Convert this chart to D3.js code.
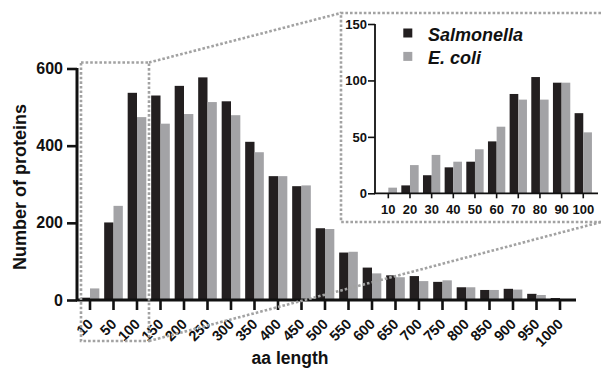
<!DOCTYPE html>
<html><head><meta charset="utf-8">
<script src="https://cdn.jsdelivr.net/npm/d3@7"></script>
<style>
html,body{margin:0;padding:0;background:#fff;}
svg{display:block;font-family:"Liberation Sans",Arial,Helvetica,sans-serif;font-weight:bold;}
</style></head>
<body>
<svg id="c" width="602" height="372"></svg>
<script>
// Main chart data
const mainCategories = ["10","50","100","150","200","250","300","350","400","450","500","550","600","650","700","750","800","850","900","950","1000"];
const salmonellaMain = [6,201,537,530,555,577,515,410,321,295,186,123,84,64,62,47,33,26,29,16,5];
const ecoliMain      = [30,244,474,457,482,513,479,383,321,297,184,125,69,59,49,51,33,26,27,13,0];
const mainYTicks = [0,200,400,600];

// Inset data
const insetCategories = ["10","20","30","40","50","60","70","80","90","100"];
const salmonellaInset = [0,7,16,23,28,46,88,103,98,71];
const ecoliInset      = [5,25,34,28,39,59,83,83,98,54];
const insetYTicks = [0,50,100,150];

const seriesNames = ["Salmonella","E. coli"];
const colors = ["#231f20","#a3a3a6"];

const svg = d3.select("#c");
const dotted = {stroke:"#a2a2a2", width:2.6, dash:"2.6,2"};

// ---------- main chart ----------
const x = d3.scaleBand().domain(mainCategories).range([78.25, 571.75]).paddingInner(0).paddingOuter(0);
const x1 = d3.scaleBand().domain(seriesNames).range([0, x.bandwidth()]).paddingInner(0).paddingOuter(0.26);
const y = d3.scaleLinear().domain([0,600]).range([300, 68.5]);

const mainData = mainCategories.map((c,i)=>({cat:c, vals:[salmonellaMain[i], ecoliMain[i]]}));
const g = svg.append("g");
g.selectAll("g.grp").data(mainData).enter().append("g")
  .attr("transform", d=>`translate(${x(d.cat)},0)`)
  .selectAll("rect").data(d=>d.vals.map((v,j)=>({s:seriesNames[j], v, j})))
  .enter().append("rect")
  .attr("x", d=>x1(d.s)).attr("width", x1.bandwidth())
  .attr("y", d=>y(d.v)).attr("height", d=>y(0)-y(d.v))
  .attr("fill", d=>colors[d.j]);

// y axis
const yAxis = g.append("g").attr("transform","translate(77,0)")
  .call(d3.axisLeft(y).tickValues(mainYTicks).tickSize(10).tickPadding(4).tickFormat(d3.format("d")));
yAxis.select(".domain").attr("stroke","#111").attr("stroke-width",3).attr("d","M0,300.5V68");
yAxis.selectAll(".tick line").attr("stroke","#111").attr("stroke-width",2.6);
yAxis.selectAll(".tick text").attr("font-size",16).attr("font-weight","bold").attr("fill","#111")
  .attr("font-family","Liberation Sans, Arial, sans-serif");

// x axis
const xAxis = g.append("g").attr("transform","translate(0,300)")
  .call(d3.axisBottom(x).tickSize(10).tickPadding(0));
xAxis.select(".domain").attr("stroke","#111").attr("stroke-width",3).attr("d","M76,0H576");
xAxis.selectAll(".tick line").attr("stroke","#111").attr("stroke-width",2.6);
xAxis.selectAll(".tick text")
  .attr("font-size",14.5).attr("font-weight","bold").attr("fill","#111")
  .attr("font-family","Liberation Sans, Arial, sans-serif")
  .attr("text-anchor","end").attr("y",null).attr("dy",null)
  .attr("transform","translate(4,25) rotate(-45)");

// titles
svg.append("text").attr("x",290).attr("y",364).attr("text-anchor","middle")
  .attr("font-size",17.5).attr("fill","#111").text("aa length");
svg.append("text").attr("transform","translate(26,187) rotate(-90)").attr("text-anchor","middle")
  .attr("font-size",18).attr("fill","#111").text("Number of proteins");

// ---------- inset ----------
const xi = d3.scaleBand().domain(insetCategories).range([377.5, 594.1]).paddingInner(0).paddingOuter(0);
const xi1 = d3.scaleBand().domain(seriesNames).range([0, xi.bandwidth()]).paddingInner(0).paddingOuter(0.25);
const yi = d3.scaleLinear().domain([0,150]).range([193.3, 24]);

const insetData = insetCategories.map((c,i)=>({cat:c, vals:[salmonellaInset[i], ecoliInset[i]]}));
const gi = svg.append("g");
gi.selectAll("g.grp").data(insetData).enter().append("g")
  .attr("transform", d=>`translate(${xi(d.cat)},0)`)
  .selectAll("rect").data(d=>d.vals.map((v,j)=>({s:seriesNames[j], v, j})))
  .enter().append("rect")
  .attr("x", d=>xi1(d.s)).attr("width", xi1.bandwidth())
  .attr("y", d=>yi(d.v)).attr("height", d=>yi(0)-yi(d.v))
  .attr("fill", d=>colors[d.j]);

const yiAxis = gi.append("g").attr("transform","translate(375,0)")
  .call(d3.axisLeft(yi).tickValues(insetYTicks).tickSize(7).tickPadding(1).tickFormat(d3.format("d")));
yiAxis.select(".domain").attr("stroke","#111").attr("stroke-width",1.8).attr("d","M0,193.8V24");
yiAxis.selectAll(".tick line").attr("stroke","#111").attr("stroke-width",1.6);
yiAxis.selectAll(".tick text").attr("font-size",13).attr("font-weight","bold").attr("fill","#111")
  .attr("font-family","Liberation Sans, Arial, sans-serif");

const xiAxis = gi.append("g").attr("transform","translate(0,193.3)")
  .call(d3.axisBottom(xi).tickSize(5).tickPadding(6));
xiAxis.select(".domain").attr("stroke","#111").attr("stroke-width",1.8).attr("d","M374,0H598");
xiAxis.selectAll(".tick line").attr("stroke","#111").attr("stroke-width",1.6);
xiAxis.selectAll(".tick text").attr("font-size",13).attr("font-weight","bold").attr("fill","#111")
  .attr("font-family","Liberation Sans, Arial, sans-serif");

// legend
const legend = svg.append("g");
seriesNames.forEach((s,i)=>{
  const ly = 28.5 + i*23.4;
  legend.append("rect").attr("x",403.3).attr("y",ly).attr("width",9).attr("height",9).attr("fill",colors[i]);
  legend.append("text").attr("x",428).attr("y",ly+12.3).attr("font-size",18)
    .attr("font-style","italic").attr("fill","#111").text(s);
});

// ---------- dotted zoom guides ----------
const guides = svg.append("g").attr("fill","none").attr("stroke",dotted.stroke)
  .attr("stroke-width",dotted.width).attr("stroke-dasharray",dotted.dash);
guides.append("rect").attr("x",81).attr("y",62.5).attr("width",68).attr("height",278.5);
guides.append("path").attr("d","M601,13H341V222H601");
guides.append("path").attr("d","M149,62.5L341,13");
guides.append("path").attr("d","M149,341L601,222");
</script>
</body></html>
